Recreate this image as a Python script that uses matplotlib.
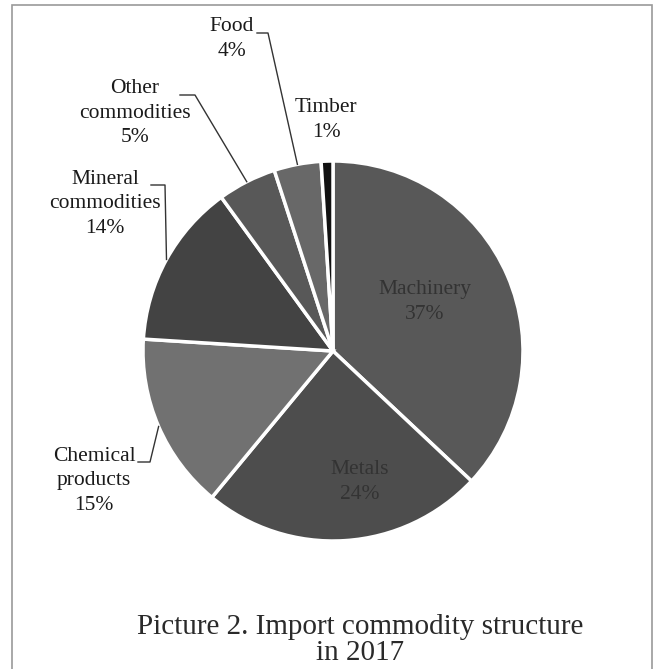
import matplotlib
matplotlib.use("Agg")
import matplotlib.pyplot as plt
import matplotlib.patches as mpatches
import numpy as np

categories = ["Machinery", "Metals", "Chemical\nproducts", "Mineral\ncommodities",
              "Other\ncommodities", "Food", "Timber"]
values = [37, 24, 15, 14, 5, 4, 1]
colors = ["#585858", "#4d4d4d", "#717171", "#434343", "#585858", "#686868", "#111111"]
title = "Picture 2. Import commodity structure\nin 2017"

plt.rcParams['font.family'] = ['Liberation Serif', 'DejaVu Serif']

fig = plt.figure(figsize=(6.66, 6.69), dpi=100)
W, H = 666, 669
# axes placed so that pie centre ~(333,351) px, radius ~190 px
ax = fig.add_axes([(333 - 190) / W, (H - 351 - 190) / H, 380 / W, 380 / H])
wedges, _ = ax.pie(values, colors=colors, startangle=90, counterclock=False,
                   wedgeprops=dict(edgecolor="white", linewidth=2.5))
ax.set_xlim(-1, 1)
ax.set_ylim(-1, 1)
ax.set_aspect("equal")
ax.axis("off")

fs = 15.5
ls = 1.42


def px(x, y):
    return (x / W, 1 - y / H)


def mid_angle(w):
    return np.deg2rad((w.theta1 + w.theta2) / 2)


# inside labels (text centre positions in px)
inside = [(0, (425, 302)), (1, (360, 482))]
for i, tpos in inside:
    fig.text(*px(*tpos), f"{categories[i]}\n{values[i]}%", ha="center", va="center",
             fontsize=fs, color="#333333", linespacing=ls)

# outside labels: (index, text centre px, leader polyline start points px)
outside = [
    (2, (94, 481), [(138, 462), (150, 462)]),
    (3, (105, 204), [(151, 185), (165, 185)]),
    (4, (135, 113), [(180, 95), (195, 95)]),
    (5, (232, 39), [(257, 33), (268, 33)]),
    (6, (326, 120), None),
]
for i, tpos, pts in outside:
    fig.text(*px(*tpos), f"{categories[i]}\n{values[i]}%", ha="center", va="center",
             fontsize=fs, color="#1a1a1a", linespacing=ls)
    if pts is not None:
        a = mid_angle(wedges[i])
        end_disp = ax.transData.transform((np.cos(a), np.sin(a)))
        end_fig = fig.transFigure.inverted().transform(end_disp)
        xs = [p[0] / W for p in pts] + [end_fig[0]]
        ys = [1 - p[1] / H for p in pts] + [end_fig[1]]
        fig.add_artist(plt.Line2D(xs, ys, color="#333333", lw=1.0, transform=fig.transFigure))

fig.text(*px(360, 640), title, ha="center", va="center", fontsize=21,
         color="#2a2a2a", linespacing=1.05)

# frame
fig.add_artist(mpatches.Rectangle((12 / W, -0.05), (652 - 12) / W, 1 - 5 / H + 0.05,
                                  transform=fig.transFigure, fill=False,
                                  edgecolor="#9a9a9a", lw=1.2))

fig.savefig("out.png", dpi=100, facecolor="white")
